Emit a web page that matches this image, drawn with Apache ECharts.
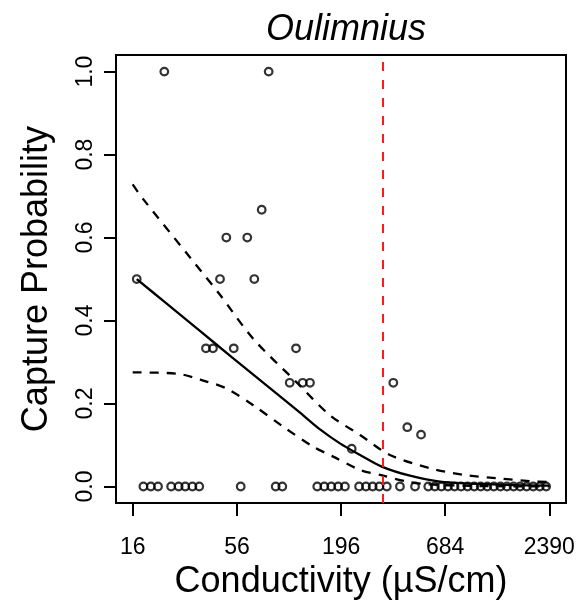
<!DOCTYPE html>
<html>
<head>
<meta charset="utf-8">
<script src="https://cdn.jsdelivr.net/npm/echarts@6/dist/echarts.min.js"></script>
<style>html,body{margin:0;padding:0;background:#fff}#c{width:578px;height:605px}</style>
</head>
<body>
<div id="c"></div>
<script>
// ---- data ----
const chartTitle = 'Oulimnius';
const xTicks = [16, 56, 196, 684, 2390];
const yTicks = [0, 0.2, 0.4, 0.6, 0.8, 1.0];
const threshold = 321;

const obsConductivity = [
  16.8, 23.4, 82, 75.4, 49.3, 63.4, 45.7, 69, 38.6, 42, 53.9, 113.9,
  105.6, 123.4, 134.7, 366.6, 433.7, 511.7, 222.4,
  18.2, 19.9, 21.7, 25.4, 27.8, 30.1, 32.8, 35.6, 58.6, 89.2, 96.6,
  147, 160, 174, 189, 205, 243, 264, 286, 310, 339, 397, 476,
  558, 604, 653, 707, 765, 827, 895, 969, 1048, 1134, 1227, 1328,
  1437, 1555, 1682, 1820, 1969, 2131, 2300
];
const obsProbability = [
  0.5, 1.0, 1.0, 0.667, 0.6, 0.6, 0.5, 0.5, 0.333, 0.333, 0.333, 0.333,
  0.25, 0.25, 0.25, 0.25, 0.143, 0.125, 0.091,
  0, 0, 0, 0, 0, 0, 0, 0, 0, 0, 0,
  0, 0, 0, 0, 0, 0, 0, 0, 0, 0, 0, 0,
  0, 0, 0, 0, 0, 0, 0, 0, 0, 0, 0, 0,
  0, 0, 0, 0, 0, 0, 0
];

const fitConductivity = [16.8, 23.3, 35.9, 52.6, 90.3, 119.5, 152, 193, 246, 319, 448, 643, 1322, 2390];
const fitProbability  = [0.50, 0.446, 0.375, 0.312, 0.224, 0.178, 0.1375, 0.104, 0.076, 0.048, 0.026, 0.012, 0.0043, 0.002];

const upperConductivity = [16, 18.2, 31.9, 45.7, 68.1, 114.8, 171, 246, 352, 570, 851, 1270, 1896, 2390];
const upperProbability  = [0.728, 0.692, 0.552, 0.462, 0.356, 0.251, 0.172, 0.124, 0.076, 0.044, 0.028, 0.020, 0.013, 0.011];

const lowerConductivity = [16, 27.2, 38.9, 49.5, 68.1, 97.7, 140, 178, 246, 325, 431, 570, 850, 1400, 2390];
const lowerProbability  = [0.275, 0.272, 0.253, 0.236, 0.196, 0.144, 0.096, 0.072, 0.040, 0.026, 0.012, 0.005, 0.002, 0.0005, 0.0001];

// ---- chart ----
const L = Math.log10;
const R = L(xTicks[xTicks.length - 1]) - L(xTicks[0]);
const xMin = L(xTicks[0]) - 0.04 * R;
const xMax = L(xTicks[xTicks.length - 1]) + 0.04 * R;
const pairs = (xs, ys) => xs.map((x, i) => [L(x), ys[i]]);
const FONT = '"Liberation Sans", Arial, Helvetica, sans-serif';

const chart = echarts.init(document.getElementById('c'), null, {renderer: 'canvas'});
chart.setOption({
  animation: false,
  backgroundColor: '#fff',
  title: {
    text: chartTitle, left: 341, top: 7, textAlign: 'center',
    textStyle: {fontFamily: FONT, fontStyle: 'italic', fontWeight: 'normal', fontSize: 36, color: '#000'}
  },
  grid: {left: 116, top: 55, width: 450, height: 450, show: true, borderColor: '#000', borderWidth: 2, backgroundColor: 'transparent'},
  xAxis: {
    type: 'value', min: xMin, max: xMax,
    name: 'Conductivity (µS/cm)', nameLocation: 'middle', nameGap: 57,
    nameTextStyle: {fontFamily: FONT, fontSize: 36, color: '#000'},
    axisLine: {show: false, onZero: false},
    splitLine: {show: false},
    axisTick: {show: true, length: 13, customValues: xTicks.map(L), lineStyle: {color: '#000', width: 2}},
    axisLabel: {customValues: xTicks.map(L), margin: 33, fontFamily: FONT, fontSize: 23, color: '#000',
      formatter: v => String(Math.round(Math.pow(10, v)))}
  },
  yAxis: {
    type: 'value', min: -0.04, max: 1.04,
    name: 'Capture Probability', nameLocation: 'middle', nameGap: 61,
    nameTextStyle: {fontFamily: FONT, fontSize: 36, color: '#000'},
    axisLine: {show: false, onZero: false},
    splitLine: {show: false},
    axisTick: {show: true, length: 12, customValues: yTicks, lineStyle: {color: '#000', width: 2}},
    axisLabel: {customValues: yTicks, rotate: 90, margin: 19, fontFamily: FONT, fontSize: 23, color: '#000',
      formatter: v => v.toFixed(1)}
  },
  series: [
    {
      type: 'line', data: pairs(upperConductivity, upperProbability), showSymbol: false, smooth: 0.3,
      lineStyle: {color: '#000', width: 2.3, type: [9, 8]}, z: 3
    },
    {
      type: 'line', data: pairs(lowerConductivity, lowerProbability), showSymbol: false, smooth: 0.3,
      lineStyle: {color: '#000', width: 2.3, type: [9, 8]}, z: 3
    },
    {
      type: 'line', data: pairs(fitConductivity, fitProbability), showSymbol: false, smooth: 0.3,
      lineStyle: {color: '#000', width: 2.3}, z: 3,
      markLine: {
        silent: true, symbol: 'none', label: {show: false},
        lineStyle: {color: '#ff1a1a', width: 2, type: [9, 9]},
        data: [{xAxis: L(threshold)}]
      }
    },
    {
      type: 'scatter', data: pairs(obsConductivity, obsProbability), symbol: 'circle', symbolSize: 7.6,
      itemStyle: {color: 'rgba(0,0,0,0)', borderColor: '#000', borderWidth: 2.2}, z: 4
    }
  ]
});
</script>
</body>
</html>
